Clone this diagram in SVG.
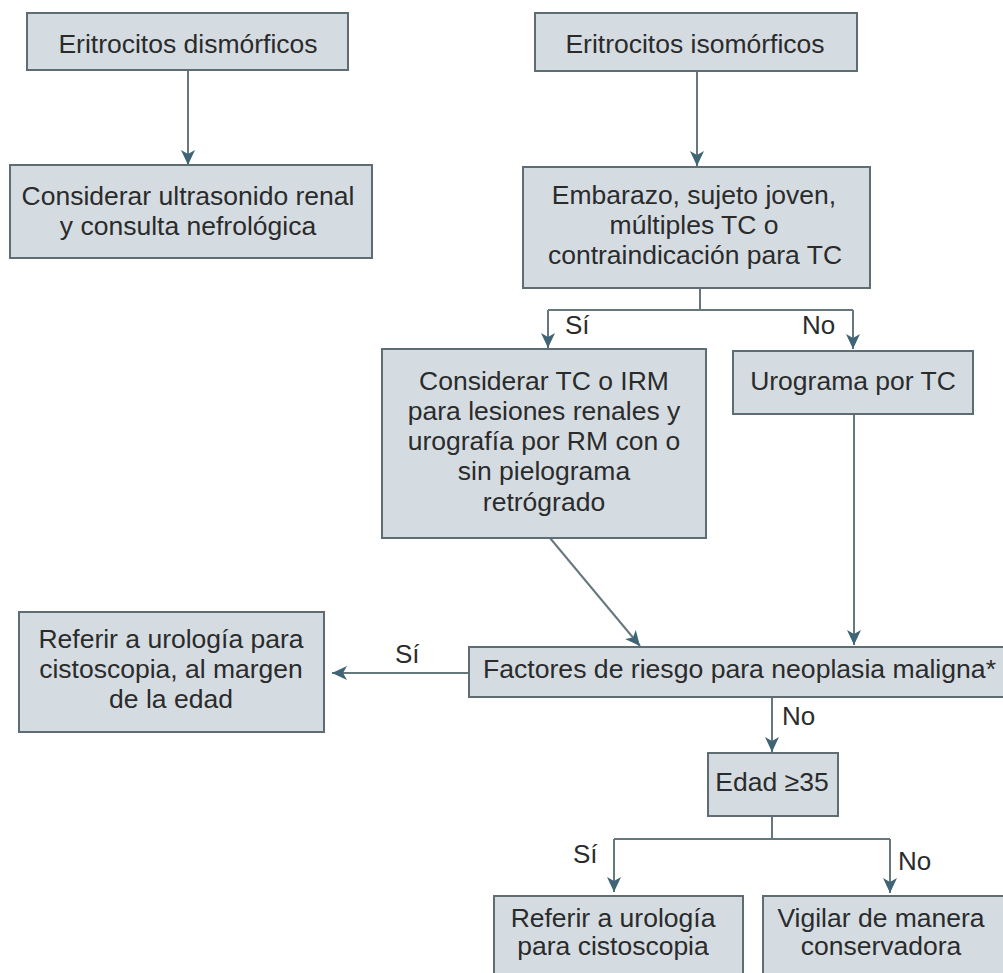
<svg xmlns="http://www.w3.org/2000/svg" width="1003" height="973" viewBox="0 0 1003 973">
<style>
.box{fill:#d4dce2;stroke:#5e6c73;stroke-width:2}
.t{font-family:"Liberation Sans",Arial,sans-serif;font-size:26.5px;fill:#2b2b2b;text-anchor:middle}
.lbl{font-family:"Liberation Sans",Arial,sans-serif;font-size:26px;fill:#2b2b2b}
.c{fill:none;stroke:#66777e;stroke-width:2}
</style>
<defs>
<marker id="ah" markerUnits="userSpaceOnUse" markerWidth="16" markerHeight="14" refX="15" refY="7" orient="auto">
<path d="M0,0 L15,7 L0,14 L4,7 z" fill="#3f6475"/>
</marker>
</defs>
<rect width="1003" height="973" fill="#ffffff"/>
<g id="connectors">
<path class="c" d="M188,70 V165" marker-end="url(#ah)"/>
<path class="c" d="M697,71 V166" marker-end="url(#ah)"/>
<path class="c" d="M700,288 V310 M548,310 H853"/>
<path class="c" d="M548,310 V348" marker-end="url(#ah)"/>
<path class="c" d="M853,310 V349" marker-end="url(#ah)"/>
<path class="c" d="M550,538 L640,646" marker-end="url(#ah)"/>
<path class="c" d="M854,414 V645" marker-end="url(#ah)"/>
<path class="c" d="M469,673 H332" marker-end="url(#ah)"/>
<path class="c" d="M772,697 V752" marker-end="url(#ah)"/>
<path class="c" d="M772,816 V839 M614,839 H890"/>
<path class="c" d="M614,839 V892" marker-end="url(#ah)"/>
<path class="c" d="M890,839 V893" marker-end="url(#ah)"/>
<text class="lbl" x="565" y="334">Sí</text>
<text class="lbl" x="802" y="334">No</text>
<text class="lbl" x="395" y="663">Sí</text>
<text class="lbl" x="782" y="725">No</text>
<text class="lbl" x="573" y="863">Sí</text>
<text class="lbl" x="898" y="870">No</text>
</g>
<g id="n1">
<rect class="box" x="27" y="13" width="321" height="57"/>
<text class="t" x="188" y="53">Eritrocitos dismórficos</text>
</g>
<g id="n2">
<rect class="box" x="10" y="165" width="362" height="93"/>
<text class="t" x="188" y="205">Considerar ultrasonido renal</text>
<text class="t" x="188" y="235">y consulta nefrológica</text>
</g>
<g id="n3">
<rect class="box" x="535" y="13" width="322" height="58"/>
<text class="t" x="695" y="53">Eritrocitos isomórficos</text>
</g>
<g id="n4">
<rect class="box" x="523" y="167" width="347" height="121"/>
<text class="t" x="694" y="204">Embarazo, sujeto joven,</text>
<text class="t" x="694" y="234">múltiples TC o</text>
<text class="t" x="695" y="264">contraindicación para TC</text>
</g>
<g id="n5">
<rect class="box" x="382" y="349" width="324" height="189"/>
<text class="t" x="544" y="390">Considerar TC o IRM</text>
<text class="t" x="544" y="420">para lesiones renales y</text>
<text class="t" x="544" y="450">urografía por RM con o</text>
<text class="t" x="544" y="480">sin pielograma</text>
<text class="t" x="544" y="511">retrógrado</text>
</g>
<g id="n6">
<rect class="box" x="733" y="351" width="240" height="63"/>
<text class="t" x="853" y="390">Urograma por TC</text>
</g>
<g id="n7">
<rect class="box" x="19" y="612" width="305" height="120"/>
<text class="t" x="171" y="648">Referir a urología para</text>
<text class="t" x="171" y="678">cistoscopia, al margen</text>
<text class="t" x="171" y="708">de la edad</text>
</g>
<g id="n8">
<rect class="box" x="469" y="647" width="545" height="50"/>
<text class="t" x="483" y="678" style="text-anchor:start" textLength="513" lengthAdjust="spacingAndGlyphs">Factores de riesgo para neoplasia maligna*</text>
</g>
<g id="n9">
<rect class="box" x="708" y="753" width="130" height="63"/>
<text class="t" x="772" y="791">Edad ≥35</text>
</g>
<g id="n10">
<rect class="box" x="494" y="896" width="249" height="90"/>
<text class="t" x="613" y="927">Referir a urología</text>
<text class="t" x="613" y="955">para cistoscopia</text>
</g>
<g id="n11">
<rect class="box" x="763" y="896" width="250" height="90"/>
<text class="t" x="881" y="927">Vigilar de manera</text>
<text class="t" x="881" y="955">conservadora</text>
</g>
</svg>
